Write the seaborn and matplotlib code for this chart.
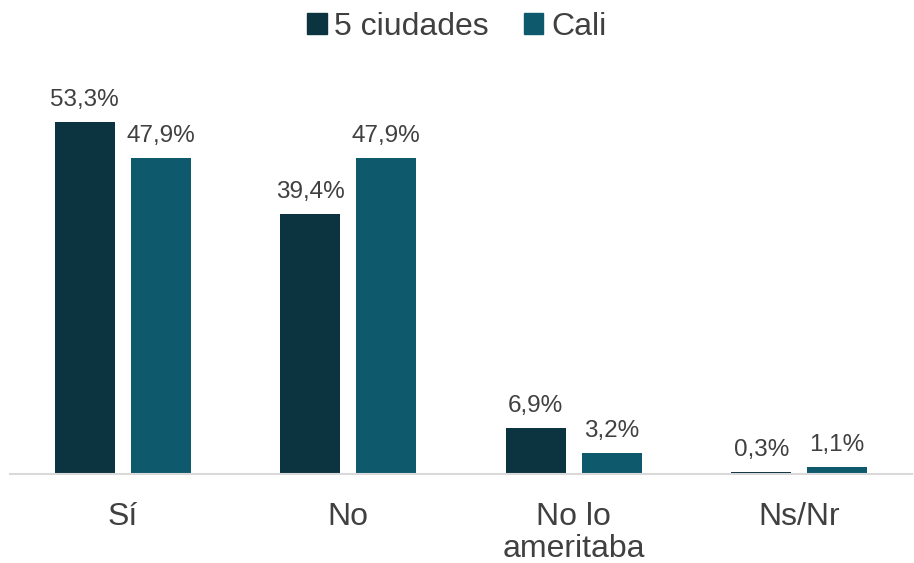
import pandas as pd
import seaborn as sns
import matplotlib.pyplot as plt
from matplotlib.patches import Patch

categorias = ['Sí', 'No', 'No lo\nameritaba', 'Ns/Nr']
series = ['5 ciudades', 'Cali']
cinco_ciudades = [53.3, 39.4, 6.9, 0.3]
cali = [47.9, 47.9, 3.2, 1.1]
colores = ['#0b3340', '#0e596c']

df = pd.DataFrame({
    'cat': categorias * 2,
    'serie': [series[0]] * 4 + [series[1]] * 4,
    'valor': cinco_ciudades + cali,
})

sns.set_style('white')
plt.rcParams['font.family'] = ['Liberation Sans', 'DejaVu Sans']

fig = plt.figure(figsize=(9.14, 5.63), dpi=100)
ax = fig.add_axes([10 / 914, 89 / 563, 902 / 914, 396 / 563])

sns.barplot(data=df, x='cat', y='valor', hue='serie', palette=colores,
            width=0.674, gap=0.21, ax=ax, legend=False, saturation=1,
            linewidth=0)

for cont in ax.containers:
    etiquetas = [f'{v:.1f}%'.replace('.', ',') for v in cont.datavalues]
    ax.bar_label(cont, labels=etiquetas, padding=8, fontsize=17.5, color='#404040')

ax.set_ylim(0, 60)
ax.set_xlim(-0.5, 3.5)
ax.set_xlabel('')
ax.set_ylabel('')
ax.set_yticks([])
for s in ['top', 'right', 'left']:
    ax.spines[s].set_visible(False)
ax.spines['bottom'].set_color('#d9d9d9')
ax.spines['bottom'].set_linewidth(1.5)
ax.tick_params(axis='x', length=0, pad=20, labelsize=23, labelcolor='#404040')
for t in ax.get_xticklabels():
    t.set_linespacing(1.1)
    t.set_verticalalignment('top')

handles = [Patch(color=c, label=s) for c, s in zip(colores, series)]
fig.legend(handles=handles, loc='upper center', bbox_to_anchor=(0.5, 1.03), ncol=2,
           frameon=False, fontsize=23, handlelength=0.6, handleheight=0.6,
           handletextpad=0.25, columnspacing=1.1, labelcolor='#404040')

fig.savefig('out.png', dpi=100)
